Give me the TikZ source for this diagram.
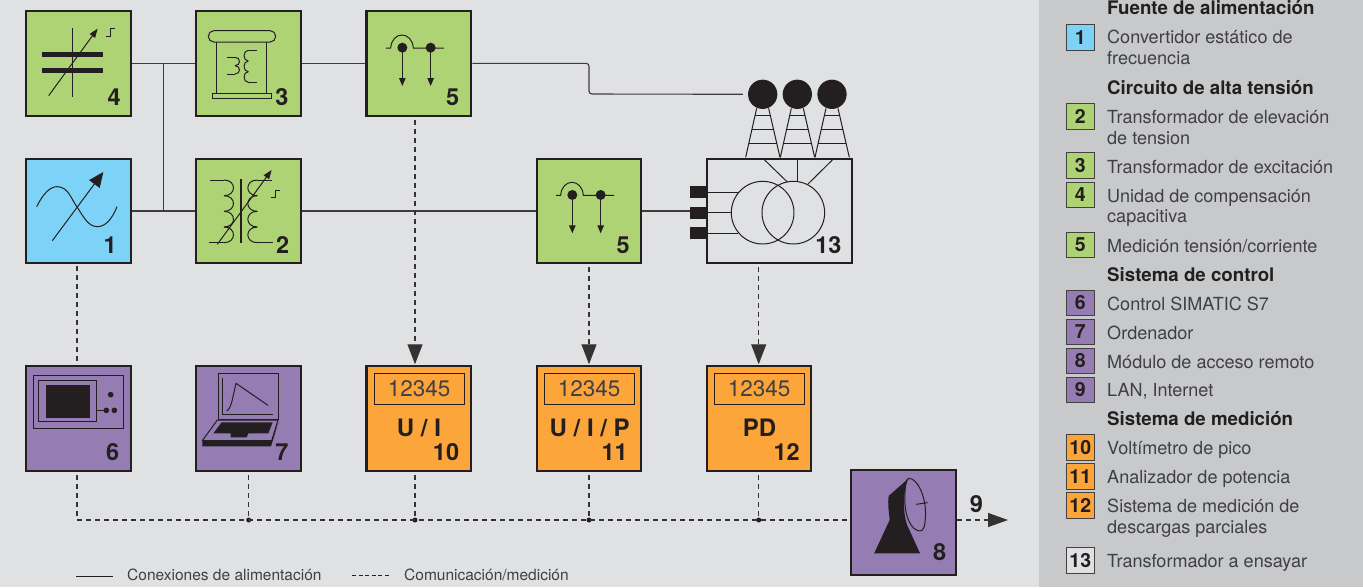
\documentclass[tikz,border=0pt]{standalone}
\usepackage{fontspec}
\setmainfont{TeX Gyre Heros}
\usetikzlibrary{arrows.meta,calc}
\definecolor{pagebg}{HTML}{E0E1E3}
\definecolor{panelbg}{HTML}{C8C9CB}
\definecolor{ink}{HTML}{231F20}
\definecolor{softink}{HTML}{404042}
\definecolor{greenbox}{HTML}{ADD374}
\definecolor{bluebox}{HTML}{7DD3F7}
\definecolor{purplebox}{HTML}{957CB3}
\definecolor{orangebox}{HTML}{FBA53A}
\tikzset{
  block/.style={draw=ink,line width=2.2pt,inner sep=0pt,minimum width=104.7pt,minimum height=104.7pt},
  blocknum/.style={anchor=base east,inner sep=0pt,text=ink,font=\fontsize{23.5}{23.5}\selectfont\bfseries},
  blocktag/.style={anchor=base,inner sep=0pt,text=ink,font=\fontsize{24}{24}\selectfont\bfseries},
  readout/.style={draw=ink,line width=1pt,inner sep=0pt,minimum width=90pt,minimum height=31pt,text=softink,font=\fontsize{22.5}{22.5}\selectfont},
  power/.style={draw=ink!85!pagebg,line width=1.1pt},
  signal/.style={draw=ink!90!pagebg,line width=1.2pt,dash pattern=on 5pt off 4pt},
  bigtip/.style={-{Triangle[length=20pt,width=15pt]}},
  jdot/.style={circle,fill=ink,inner sep=0pt,minimum size=5pt},
  sym/.style={draw=ink,line width=1pt},
  zoomed/.style={x=0.33333pt,y=-0.33333pt},
  zoomedw/.style={x=0.34483pt,y=-0.33333pt},
  swatch/.style={draw=ink!85,line width=0.8pt,inner sep=0pt,minimum width=28pt,minimum height=25.5pt,text=ink,font=\fontsize{19.5}{19.5}\selectfont\bfseries},
  legtext/.style={anchor=base west,inner sep=0pt,text=softink,font=\fontsize{18.05}{18.05}\selectfont},
  leghead/.style={anchor=base west,inner sep=0pt,text=ink,font=\fontsize{18.7}{18.7}\selectfont\bfseries},
  keytext/.style={anchor=base west,inner sep=0pt,text=softink,font=\fontsize{15.5}{15.5}\selectfont},
}
\newcommand{\coilrun}[5]{% x, ystart, bump height, bulge, count
  \foreach \ci in {1,...,#5}
    \draw[sym] ({#1},{#2+(\ci-1)*#3}) .. controls ({#1+#4},{#2+(\ci-1)*#3}) and ({#1+#4},{#2+\ci*#3}) .. ({#1},{#2+\ci*#3});
}
\newcommand{\meassym}[2]{%
  \begin{scope}[shift={(#1,#2)},zoomed]
    \draw[sym] (1158,144) -- (1172,144) .. controls (1176,92) and (1236,92) .. (1240,144) -- (1332,144);
    \fill[ink] (1207,143) circle (15);
    \fill[ink] (1292,143) circle (15);
    \draw[sym,-{Triangle[length=8pt,width=6.5pt]}] (1207,143) -- (1207,258);
    \draw[sym,-{Triangle[length=8pt,width=6.5pt]}] (1292,143) -- (1292,258);
  \end{scope}
}
\begin{document}
\begin{tikzpicture}[x=1pt,y=-1pt]
\useasboundingbox (0,0) rectangle (1363,587);
\fill[pagebg] (0,0) rectangle (1363,587);
\fill[panelbg] (1039,0) rectangle (1363,587);

% blocks
\node[block,fill=greenbox]  (box4)  at (78.3,63.3) {};
\node[block,fill=greenbox]  (box3)  at (248.3,63.3) {};
\node[block,fill=greenbox]  (box5a) at (418.8,63.3) {};
\node[block,fill=bluebox]   (box1)  at (78.3,211) {};
\node[block,fill=greenbox]  (box2)  at (248.6,211) {};
\node[block,fill=greenbox]  (box5b) at (589,211) {};
\node[block,fill=pagebg,minimum width=145pt] (box13) at (779.5,211) {};
\node[block,fill=purplebox] (box6)  at (78.3,418.7) {};
\node[block,fill=purplebox] (box7)  at (248.6,418.7) {};
\node[block,fill=orangebox] (box10) at (418.8,418.7) {};
\node[block,fill=orangebox] (box11) at (589,418.7) {};
\node[block,fill=orangebox] (box12) at (759,418.7) {};
\node[block,fill=purplebox] (box8)  at (903.5,522.5) {};

% bus junctions and free ends
\node[jdot] (j7)  at (248.7,520) {};
\node[jdot] (j10) at (415,520) {};
\node[jdot] (j11) at (589,520) {};
\node[jdot] (j12) at (758.7,520) {};
\coordinate (buscorner) at (77,520);
\coordinate (net) at (1008,520);
\coordinate (bend) at (589,94);
\coordinate (tee) at (163.3,63);
\coordinate (teeb) at (163.3,211);

% test object terminals and bushings
\begin{scope}[zoomed,shift={(1440,0)}]
  \foreach \dx in {0,104,208}{
    \draw[sym] ({830+\dx},325) -- ({797+\dx},472);
    \draw[sym] ({866+\dx},325) -- ({900+\dx},472);
    \draw[sym] ({825+\dx},346) -- ({871+\dx},346);
    \draw[sym] ({815+\dx},388) -- ({881+\dx},388);
    \draw[sym] ({806+\dx},431) -- ({890+\dx},431);
  }
  \draw[sym] (854,480) -- (922,546);
  \draw[sym] (952,480) -- (952,544);
  \draw[sym] (1057,480) -- (983,553);
  \draw[sym] (848,638) circle (94);
  \draw[sym] (940,638) circle (94);
  \draw[sym] (680,576) -- (775,576);
  \draw[sym] (680,638) -- (755,638);
  \draw[sym] (680,699) -- (775,699);
  \fill[ink] (630,558) rectangle (680,594);
  \fill[ink] (630,681) rectangle (680,717);
\end{scope}
\node[fill=ink,inner sep=0pt,minimum width=16.7pt,minimum height=12pt] (term) at (698.3,213) {};
\node[circle,fill=ink,inner sep=0pt,minimum size=29.3pt] (bushA) at (762.7,94.3) {};
\node[circle,fill=ink,inner sep=0pt,minimum size=29.3pt] (bushB) at (797.3,94.3) {};
\node[circle,fill=ink,inner sep=0pt,minimum size=29.3pt] (bushC) at (832,94.3) {};

% power connectors
\draw[power] (box4.east) -- (box3.west);
\draw[power] (box3.east) -- (box5a.west);
\draw[power,rounded corners=3pt,shorten >=5pt] (box5a.east) -| (bend) -- (bushA.west);
\draw[power] (box1.east) -- (box2.west);
\draw[power] (tee) -- (teeb);
\draw[power] (box2.east) -- (box5b.west);
\draw[power] (box5b.east) -- (box5b.east -| term.west);

% signal connectors
\draw[signal,shorten <=2pt] (buscorner |- box1.south) -- (buscorner |- box6.north);
\draw[signal,shorten <=3pt] (buscorner |- box6.south) -- (buscorner) -- (box8.west |- buscorner);
\draw[signal,shorten <=3pt] (j7 |- box7.south) -- (j7);
\draw[signal,shorten <=3pt] (j10 |- box10.south) -- (j10);
\draw[signal,shorten <=3pt] (j11 |- box11.south) -- (j11);
\draw[signal,shorten <=3pt] (j12 |- box12.south) -- (j12);
\draw[signal,bigtip,shorten <=3pt,shorten >=1pt] (j10 |- box5a.south) -- (j10 |- box10.north);
\draw[signal,bigtip,shorten <=3pt,shorten >=1pt] (j11 |- box5b.south) -- (j11 |- box11.north);
\draw[signal,bigtip,shorten <=3pt,shorten >=1pt] (j12 |- box13.south) -- (j12 |- box12.north);
\draw[signal,-{Triangle[length=20pt,width=14pt]}] (box8.east |- net) -- (net);

% symbol 4
\begin{scope}[zoomed]
  \draw[sym] (218,85) -- (218,290);
  \fill[ink] (127,156) rectangle (310,172);
  \fill[ink] (127,204) rectangle (310,219);
  \draw[sym,-{Triangle[length=9pt,width=6.5pt]}] (146,287) -- (293,86);
  \draw[sym] (319,108) -- (333,108) -- (333,86) -- (346,86);
% symbol 3
  \draw[sym,rounded corners=5.5pt] (625,92) rectangle (827,126);
  \draw[sym] (651,126) -- (651,280);
  \draw[sym] (801,126) -- (801,280);
  \draw[sym] (637,280) rectangle (815,296);
  \draw[sym] (680,172) -- (705,172);
  \draw[sym] (680,222) -- (705,222);
  \coilrun{705}{172}{25}{18}{2}
  \draw[sym] (770,151) -- (745,151);
  \draw[sym] (770,247) -- (745,247);
  \coilrun{745}{151}{32}{-17}{3}
% symbol 1
  \draw[sym] (110,620) .. controls (130,580) and (150,560) .. (172,560) .. controls (205,560) and (215,600) .. (232,622) .. controls (250,650) and (265,680) .. (292,680) .. controls (315,680) and (335,660) .. (351,620);
  \draw[sym,-{Triangle[length=15pt,width=13pt]}] (157,722) -- (310,516);
% symbol 2
  \draw[ink,line width=2.2pt] (723,538) -- (723,728);
  \draw[sym] (630,540) -- (672,540);
  \draw[sym] (628,728) -- (672,728);
  \coilrun{672}{540}{47}{38}{4}
  \draw[sym] (817,540) -- (772,540);
  \draw[sym] (818,728) -- (772,728);
  \coilrun{772}{540}{47}{-38}{4}
  \draw[sym,-{Triangle[length=9pt,width=6.5pt]}] (652,733) -- (815,510);
  \draw[sym] (813,593) -- (826,593) -- (826,572) -- (840,572);
\end{scope}
\meassym{0}{0}
\meassym{170}{147.3}

% symbol 6
\begin{scope}[zoomed,shift={(0,1020)}]
  \draw[sym] (101,105) rectangle (370,266);
  \draw[sym] (116,122) rectangle (290,244);
  \fill[ink] (138,135) rectangle (270,234);
  \fill[ink] (332,164) circle (8.5);
  \fill[ink] (319,211) circle (8.5);
  \fill[ink] (343,211) circle (8.5);
  \draw[sym] (290,211) -- (319,211);
% symbol 7
  \draw[sym] (655,99) rectangle (836,237);
  \draw[sym] (668,113) -- (668,224) -- (818,224);
  \draw[sym] (680,213) .. controls (695,205) and (698,170) .. (708,130) -- (804,196);
  \draw[sym,line join=round] (652,240) -- (834,240) -- (815,302) -- (607,302) -- cycle;
  \fill[ink] (607,302) -- (815,302) -- (836,245) -- (813,319) -- (607,319) -- cycle;
  \fill[ink] (665,247) -- (818,247) -- (805,280) -- (745,280) -- (740,292) -- (692,292) -- (692,280) -- (640,280) -- cycle;
\end{scope}

% symbol 8
\begin{scope}[zoomedw,shift={(1392,1020)}]
  \fill[ink] (1143,640) -- (1188,540) .. controls (1185,510) and (1182,490) .. (1185,468) -- (1243,415) .. controls (1225,450) and (1225,530) .. (1243,565) -- (1276,640) -- cycle;
  \draw[sym] (1243,415) .. controls (1270,415) and (1292,470) .. (1292,520) .. controls (1292,560) and (1285,575) .. (1275,573) .. controls (1250,570) and (1232,530) .. (1232,480) .. controls (1232,440) and (1235,415) .. (1243,415);
  \draw[sym] (1265,493) -- (1298,488);
\end{scope}

% block numbers
\node[blocknum] (n4)  at (121,105) {4};
\node[blocknum] (n3)  at (288.7,105) {3};
\node[blocknum] (n5a) at (459.3,105) {5};
\node[blocknum] (n1)  at (117,253) {1};
\node[blocknum] (n2)  at (289.3,253) {2};
\node[blocknum] (n5b) at (630,253) {5};
\node[blocknum] (n13) at (841.7,253) {13};
\node[blocknum] (n6)  at (119.3,460.7) {6};
\node[blocknum] (n7)  at (288.7,460.7) {7};
\node[blocknum] (n10) at (459.3,460.7) {10};
\node[blocknum] (n11) at (628,460.7) {11};
\node[blocknum] (n12) at (800,460.7) {12};
\node[blocknum] (n8)  at (946.5,560) {8};
\node[blocknum,anchor=base] (n9) at (976.5,512.7) {9};

% readouts
\node[readout] (r10) at (419.2,389) {12345};
\node[readout] (r11) at (589.2,389) {12345};
\node[readout] (r12) at (759.2,389) {12345};
\node[blocktag] (t10) at (419,436.7) {U / I};
\node[blocktag] (t11) at (589.7,436.7) {U / I / P};
\node[blocktag] (t12) at (759.6,436.7) {PD};

% line key
\coordinate (ka) at (76,576.7);
\coordinate (kb) at (113,576.7);
\coordinate (kc) at (352,575);
\coordinate (kd) at (390,575);
\draw[ink,line width=1.1pt] (ka) -- (kb);
\draw[ink,line width=1pt,dash pattern=on 4pt off 2.6pt] (kc) -- (kd);
\node[keytext] (keya) at (127,580.7) {Conexiones de alimentación};
\node[keytext] (keyb) at (404,580.7) {Comunicación/medición};

% legend
\node[leghead] (h1) at (1107,14) {Fuente de alimentación};
\node[swatch,fill=bluebox] (s1) at (1080.3,37.2) {1};
\node[legtext] at (1107,43) {Convertidor estático de};
\node[legtext] at (1107,64.7) {frecuencia};
\node[leghead] (h2) at (1107,94) {Circuito de alta tensión};
\node[swatch,fill=greenbox] (s2) at (1080.3,116.3) {2};
\node[legtext] at (1107,123) {Transformador de elevación};
\node[legtext] at (1107,144) {de tension};
\node[swatch,fill=greenbox] (s3) at (1080.3,165.5) {3};
\node[legtext] at (1107,173) {Transformador de excitación};
\node[swatch,fill=greenbox] (s4) at (1080.3,195) {4};
\node[legtext] at (1107,202) {Unidad de compensación};
\node[legtext] at (1107,222.7) {capacitiva};
\node[swatch,fill=greenbox] (s5) at (1080.3,245) {5};
\node[legtext] at (1107,252) {Medición tensión/corriente};
\node[leghead] (h3) at (1107,281.7) {Sistema de control};
\node[swatch,fill=purplebox] (s6) at (1080.3,303) {6};
\node[legtext] at (1107,310) {Control SIMATIC S7};
\node[swatch,fill=purplebox] (s7) at (1080.3,332) {7};
\node[legtext] at (1107,339) {Ordenador};
\node[swatch,fill=purplebox] (s8) at (1080.3,361) {8};
\node[legtext] at (1107,368) {Módulo de acceso remoto};
\node[swatch,fill=purplebox] (s9) at (1080.3,390) {9};
\node[legtext] at (1107,396) {LAN, Internet};
\node[leghead] (h4) at (1107,425) {Sistema de medición};
\node[swatch,fill=orangebox] (s10) at (1080.3,447.5) {10};
\node[legtext] at (1107,454) {Voltímetro de pico};
\node[swatch,fill=orangebox] (s11) at (1080.3,476.5) {11};
\node[legtext] at (1107,483) {Analizador de potencia};
\node[swatch,fill=orangebox] (s12) at (1080.3,505.5) {12};
\node[legtext] at (1107,512) {Sistema de medición de};
\node[legtext] at (1107,533) {descargas parciales};
\node[swatch,fill=pagebg] (s13) at (1080.3,560.5) {13};
\node[legtext] at (1107,567) {Transformador a ensayar};
\end{tikzpicture}
\end{document}
